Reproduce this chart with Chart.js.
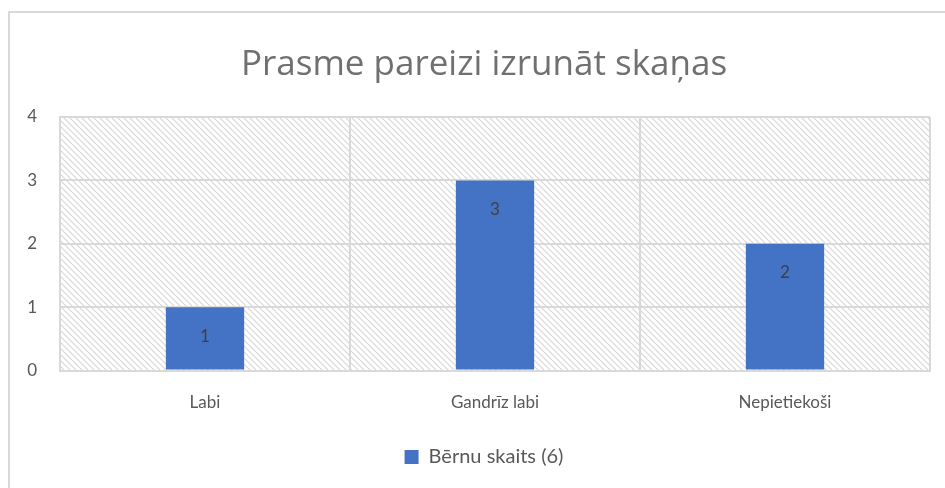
<!DOCTYPE html>
<html>
<head>
<meta charset="utf-8">
<script src="https://cdn.jsdelivr.net/npm/chart.js@4/dist/chart.umd.min.js"></script>
<style>
  html, body { margin: 0; padding: 0; background: #fff; }
  #wrap { width: 945px; height: 488px; position: relative; }
</style>
</head>
<body>
<div id="wrap"><canvas id="chart" width="945" height="488"></canvas></div>
<script>
const categories = ['Labi', 'Gandrīz labi', 'Nepietiekoši'];
const values = [1, 3, 2];
const seriesName = 'Bērnu skaits (6)';
const titleText = 'Prasme pareizi izrunāt skaņas';

const textColor = '#595959';
const titleColor = '#707070';
const gridColor = '#d9d9d9';
const barColor = '#4472c4';
const fontFamily = 'Lato, "Open Sans", sans-serif';

// diagonal hatch used for the plot area
function makeHatch() {
    const c = document.createElement('canvas');
    c.width = 6; c.height = 6;
    const g = c.getContext('2d');
    g.fillStyle = '#fff';
    g.fillRect(0, 0, 6, 6);
    g.strokeStyle = '#d6d6d6';
    g.lineWidth = 1.1;
    g.beginPath();
    g.moveTo(-1, -1); g.lineTo(7, 7);
    g.moveTo(-1, 5); g.lineTo(1, 7);
    g.moveTo(5, -1); g.lineTo(7, 1);
    g.stroke();
    return g.createPattern(c, 'repeat');
}

const backdrop = {
    id: 'backdrop',
    beforeInit(chart) {
        // small spacing keeps Lato from joining "ti"
        chart.ctx.letterSpacing = '0.1px';
    },
    afterLayout(chart) {
        // centre title and legend on the chart frame, not the canvas
        [chart.titleBlock, chart.legend].forEach(box => {
            if (!box) return;
            box.left = 38;
            box.width = box.right - box.left;
        });
    },
    beforeDraw(chart) {
        const ctx = chart.ctx;
        const a = chart.chartArea;
        ctx.save();
        // outer chart frame
        ctx.strokeStyle = gridColor;
        ctx.lineWidth = 2;
        ctx.beginPath();
        ctx.moveTo(9, chart.height);
        ctx.lineTo(9, 12);
        ctx.lineTo(chart.width, 12);
        ctx.stroke();
        ctx.fillStyle = makeHatch();
        ctx.fillRect(a.left, a.top, a.right - a.left, a.bottom - a.top);
        ctx.restore();
    }
};

const barLabels = {
    id: 'barLabels',
    afterDatasetsDraw(chart) {
        const ctx = chart.ctx;
        ctx.save();
        ctx.fillStyle = '#404040';
        ctx.font = '17px ' + fontFamily;
        ctx.textAlign = 'center';
        ctx.textBaseline = 'middle';
        chart.getDatasetMeta(0).data.forEach((bar, i) => {
            ctx.fillText(String(values[i]), bar.x, bar.y + 29);
        });
        ctx.restore();
    }
};

new Chart(document.getElementById('chart'), {
    type: 'bar',
    data: {
        labels: categories,
        datasets: [{
            label: seriesName,
            data: values,
            backgroundColor: barColor,
            borderWidth: 0,
            categoryPercentage: 1,
            barPercentage: 0.27
        }]
    },
    options: {
        responsive: false,
        animation: false,
        layout: { padding: { top: 12, right: 15, bottom: 11, left: 0 } },
        plugins: {
            title: {
                display: true,
                text: titleText,
                color: titleColor,
                font: { family: '"Open Sans", sans-serif', size: 35, weight: 'normal' },
                padding: { top: 32, bottom: 31 }
            },
            legend: {
                position: 'bottom',
                labels: {
                    color: textColor,
                    font: { family: fontFamily, size: 20 },
                    boxWidth: 14,
                    boxHeight: 14,
                    padding: 12
                }
            },
            tooltip: { enabled: false }
        },
        scales: {
            x: {
                grid: { color: gridColor, lineWidth: 2, drawTicks: false },
                border: { color: gridColor, width: 2 },
                ticks: { color: textColor, font: { family: fontFamily, size: 17 }, padding: 22 }
            },
            y: {
                min: 0, max: 4,
                afterFit(scale) { scale.width = 60; },
                grid: { color: gridColor, lineWidth: 2, drawTicks: false },
                border: { color: gridColor, width: 2 },
                ticks: { stepSize: 1, color: textColor, font: { family: fontFamily, size: 17 }, padding: 23 }
            }
        }
    },
    plugins: [backdrop, barLabels]
});
</script>
</body>
</html>
